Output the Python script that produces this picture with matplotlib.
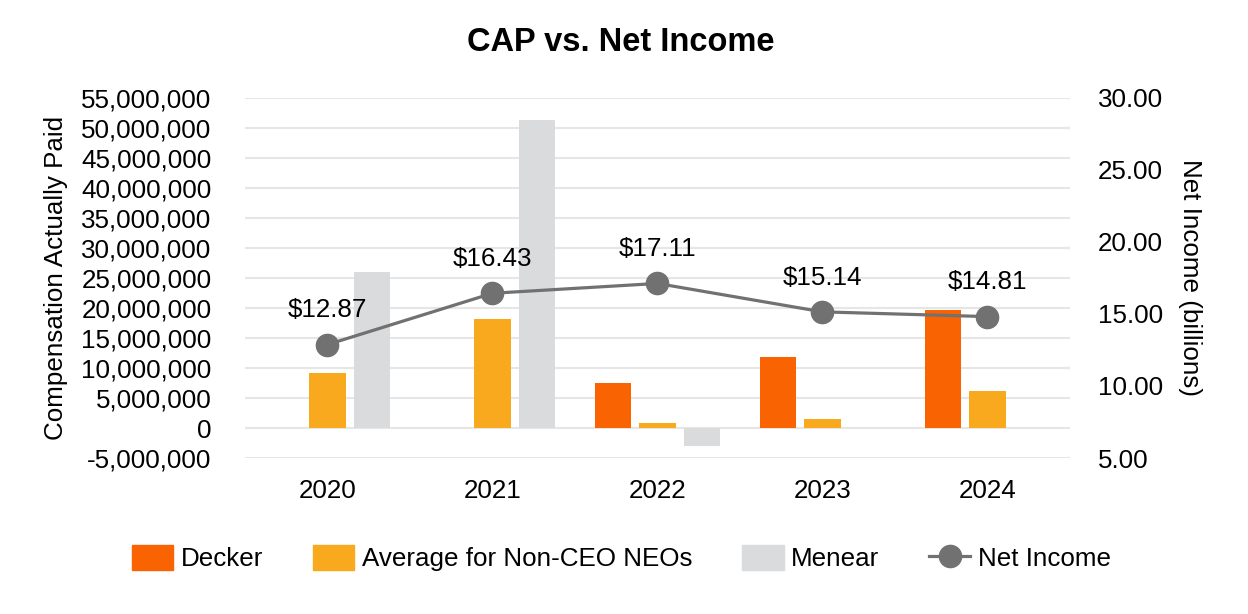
import matplotlib
matplotlib.use("Agg")
import matplotlib.pyplot as plt
import matplotlib.ticker as mticker
from matplotlib.lines import Line2D
from matplotlib.patches import Patch
import numpy as np

plt.rcParams["font.family"] = ["Liberation Sans", "DejaVu Sans"]

years = ["2020", "2021", "2022", "2023", "2024"]
decker = [np.nan, np.nan, 7.5e6, 11.8e6, 19.7e6]
avg_neo = [9.1e6, 18.1e6, 0.85e6, 1.55e6, 6.2e6]
menear = [26.0e6, 51.2e6, -3.05e6, np.nan, np.nan]
net_income = [12.87, 16.43, 17.11, 15.14, 14.81]

c_decker = "#F96302"
c_avg = "#F9A91E"
c_menear = "#DADBDC"
c_line = "#717171"
fs = 18.7

fig = plt.figure(figsize=(12.48, 6.14), dpi=100)
ax = fig.add_axes([0.1963, 0.2540, 0.6610, 0.5870])
ax2 = ax.twinx()

x = np.arange(len(years))
w = 0.22
off = 0.268
ax.bar(x - off, decker, w, color=c_decker, zorder=2)
ax.bar(x, avg_neo, w, color=c_avg, zorder=2)
ax.bar(x + off, menear, w, color=c_menear, zorder=2)

ax.set_ylim(-5e6, 55e6)
ax.set_yticks(np.arange(-5e6, 55e6 + 1, 5e6))
ax.yaxis.set_major_formatter(mticker.FuncFormatter(lambda v, p: f"{v:,.0f}"))
ax.grid(axis="y", color="#E6E6E6", linewidth=1.5, zorder=0)
ax.set_axisbelow(True)
ax.set_xlim(-0.5, 4.5)
ax.set_xticks(x)
ax.set_xticklabels(years)
ax.tick_params(axis="y", length=0, labelsize=fs, pad=24)
ax.tick_params(axis="x", length=0, labelsize=fs, pad=15)
ax.set_ylabel("Compensation Actually Paid", fontsize=fs, labelpad=10)

ax2.plot(x, net_income, color=c_line, linewidth=2.3, marker="o", markersize=16, zorder=3)
for xi, v in zip(x, net_income):
    ax2.annotate(f"${v:.2f}", (xi, v), xytext=(0, 16), textcoords="offset points",
                 ha="center", va="bottom", fontsize=fs)
ax2.set_ylim(5, 30)
ax2.set_yticks(np.arange(5, 31, 5))
ax2.yaxis.set_major_formatter(mticker.FormatStrFormatter("%.2f"))
ax2.tick_params(axis="y", length=0, labelsize=fs, pad=20)
ax2.set_ylabel("Net Income (billions)", fontsize=fs, rotation=270, labelpad=28)

for a in (ax, ax2):
    for s in a.spines.values():
        s.set_visible(False)

fig.text(0.497, 0.930, "CAP vs. Net Income", fontsize=23.5, fontweight="bold",
         ha="center", va="center")

handles = [
    Patch(color=c_decker, label="Decker"),
    Patch(color=c_avg, label="Average for Non-CEO NEOs"),
    Patch(color=c_menear, label="Menear"),
    Line2D([], [], color=c_line, linewidth=2.3, marker="o", markersize=16, label="Net Income"),
]
fig.legend(handles=handles, loc="center", bbox_to_anchor=(0.498, 0.091), ncol=4,
           frameon=False, fontsize=fs, handlelength=1.6, handleheight=1.1,
           handletextpad=0.3, columnspacing=1.9)

fig.savefig("out.png", dpi=100)
